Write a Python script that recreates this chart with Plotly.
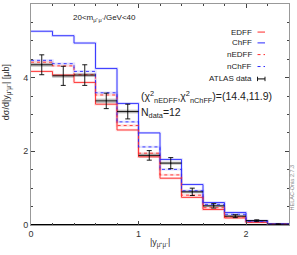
import plotly.graph_objects as go

# ---- data ----
bin_edges = [0.0, 0.2, 0.4, 0.6, 0.8, 1.0, 1.2, 1.4, 1.6, 1.8, 2.0, 2.2, 2.4]
chff  = [5.26, 5.14, 4.94, 4.25, 3.30, 2.50, 1.78, 1.10, 0.61, 0.34, 0.11, 0.03]
nchff = [4.47, 4.38, 4.17, 3.59, 2.80, 2.12, 1.51, 0.93, 0.56, 0.29, 0.10, 0.025]
nedff = [4.42, 4.32, 4.08, 3.53, 2.70, 1.95, 1.36, 0.81, 0.47, 0.22, 0.08, 0.02]
edff  = [4.17, 4.07, 3.87, 3.28, 2.58, 1.85, 1.27, 0.75, 0.42, 0.19, 0.07, 0.02]
data_y   = [4.35, 4.05, 4.07, 3.37, 3.08, 1.89, 1.68, 0.90, 0.52, 0.24, 0.12, 0.02]
data_err = [0.27, 0.26, 0.28, 0.21, 0.20, 0.13, 0.15, 0.10, 0.06, 0.04, 0.02, 0.01]
data_sys = [0.04, 0.04, 0.04, 0.05, 0.04, 0.04, 0.03, 0.03, 0.02, 0.02, 0.01, 0.01]
legend_labels = ["EDFF", "ChFF", "nEDFF", "nChFF", "ATLAS data"]

RED = "#ff2a2a"
BLUE = "#2a2aff"

centers = [(a + b) / 2 for a, b in zip(bin_edges[:-1], bin_edges[1:])]
widths = [b - a for a, b in zip(bin_edges[:-1], bin_edges[1:])]

fig = go.Figure()

def step(vals, color, dash, band_alpha):
    ys = list(vals) + [vals[-1]]
    fig.add_trace(go.Scatter(x=bin_edges, y=ys, mode="lines", line_shape="hv",
                             line=dict(color=color, width=2.4), opacity=band_alpha,
                             showlegend=False, hoverinfo="skip"))
    fig.add_trace(go.Scatter(x=bin_edges, y=ys, mode="lines", line_shape="hv",
                             line=dict(color=color, width=0.9, dash=dash),
                             showlegend=False))

step(edff, RED, "solid", 0.16)
step(chff, BLUE, "solid", 0.16)
step(nedff, RED, "dot", 0.14)
step(nchff, BLUE, "dot", 0.14)

# data systematic boxes
fig.add_trace(go.Bar(x=centers, y=[2 * s for s in data_sys],
                     base=[v - s for v, s in zip(data_y, data_sys)],
                     width=widths, marker=dict(color="rgba(120,120,120,0.35)",
                                               line=dict(color="rgba(80,80,80,0.5)", width=0.5)),
                     showlegend=False, hoverinfo="skip"))
# data points
fig.add_trace(go.Scatter(x=centers, y=data_y, mode="markers",
                         marker=dict(size=1, color="black"),
                         error_x=dict(type="data", array=[w / 2 for w in widths],
                                      color="black", thickness=0.9, width=0),
                         error_y=dict(type="data", array=data_err,
                                      color="black", thickness=0.9, width=2.5),
                         showlegend=False))

# ---- manual legend ----
leg_y = [0.873, 0.824, 0.771, 0.717, 0.661]
leg_style = [(RED, "solid"), (BLUE, "solid"), (RED, "dot"), (BLUE, "dot"), ("black", "solid")]
annotations = []
shapes = []
for lab, yy, (col, dsh) in zip(legend_labels, leg_y, leg_style):
    annotations.append(dict(x=0.864, y=yy, xref="paper", yref="paper", text=lab,
                            showarrow=False, xanchor="right", yanchor="middle",
                            font=dict(size=8, color="#222")))
    shapes.append(dict(type="line", xref="paper", yref="paper", x0=0.878, x1=0.907,
                       y0=yy, y1=yy, line=dict(color=col, width=1, dash=dsh)))
for xx in (0.878, 0.907):
    shapes.append(dict(type="line", xref="paper", yref="paper", x0=xx, x1=xx,
                       y0=leg_y[4] - 0.01, y1=leg_y[4] + 0.01,
                       line=dict(color="black", width=0.9)))

annotations += [
    dict(x=0.285, y=0.937, xref="paper", yref="paper",
         text="20&lt;m<sub>μ⁺μ⁻</sub>/GeV&lt;40", showarrow=False,
         font=dict(size=8, color="#222"), xanchor="center", yanchor="middle"),
    dict(x=0.42, y=0.579, xref="paper", yref="paper",
         text="(χ<sup>2</sup><sub>nEDFF</sub>,χ<sup>2</sup><sub>nChFF</sub>)=(14.4,11.9)",
         showarrow=False, font=dict(size=10.5, color="#222"), xanchor="left", yanchor="middle"),
    dict(x=0.42, y=0.507, xref="paper", yref="paper",
         text="N<sub>data</sub>=12", showarrow=False,
         font=dict(size=10.5, color="#222"), xanchor="left", yanchor="middle"),
    dict(x=1.0, y=0.17, xref="paper", yref="paper", xshift=3,
         text="HELAC-Onia 2.7.3", showarrow=False, textangle=-90,
         font=dict(size=5.5, color="#888"), xanchor="center", yanchor="middle"),
    dict(x=0.5, y=-0.083, xref="paper", yref="paper",
         text="|y<sub>μ⁺μ⁻</sub>|", showarrow=False,
         font=dict(size=9, color="#333"), xanchor="center", yanchor="middle"),
    dict(x=-0.09, y=0.6, xref="paper", yref="paper",
         text="dσ/d|y<sub>μ⁺μ⁻</sub>| [μb]", showarrow=False, textangle=-90,
         font=dict(size=9, color="#333"), xanchor="center", yanchor="middle"),
]

fig.update_layout(
    width=297, height=255,
    margin=dict(l=31, r=8, t=4, b=30, autoexpand=False),
    paper_bgcolor="white", plot_bgcolor="white",
    font=dict(family="Liberation Sans, Arial, sans-serif", color="#333"),
    annotations=annotations, shapes=shapes,
    showlegend=False, barmode="overlay",
)
fig.update_xaxes(range=[0, 2.4], tickvals=[0, 1, 2], ticktext=["0", "1", "2"],
                 ticks="inside", ticklen=4, tickcolor="#444", showgrid=False,
                 showline=True, linecolor="#999", linewidth=1, mirror="allticks",
                 zeroline=True, zerolinecolor="black", zerolinewidth=1.5,
                 minor=dict(dtick=0.2, tick0=0, ticks="inside", ticklen=2, tickcolor="#444"),
                 tickfont=dict(size=9, color="#333"), automargin=False)
fig.update_yaxes(range=[0, 6], tickvals=[0, 2, 4, 6], ticktext=["0", "2", "4", "6"],
                 ticks="inside", ticklen=4, tickcolor="#444", showgrid=False,
                 showline=True, linecolor="#999", linewidth=1, mirror="allticks",
                 zeroline=True, zerolinecolor="black", zerolinewidth=1.5,
                 minor=dict(dtick=0.5, tick0=0, ticks="inside", ticklen=2, tickcolor="#444"),
                 tickfont=dict(size=9, color="#333"), automargin=False)

fig.write_html("out.html", config={"displayModeBar": False},
               post_script="document.body.style.margin='0';")
